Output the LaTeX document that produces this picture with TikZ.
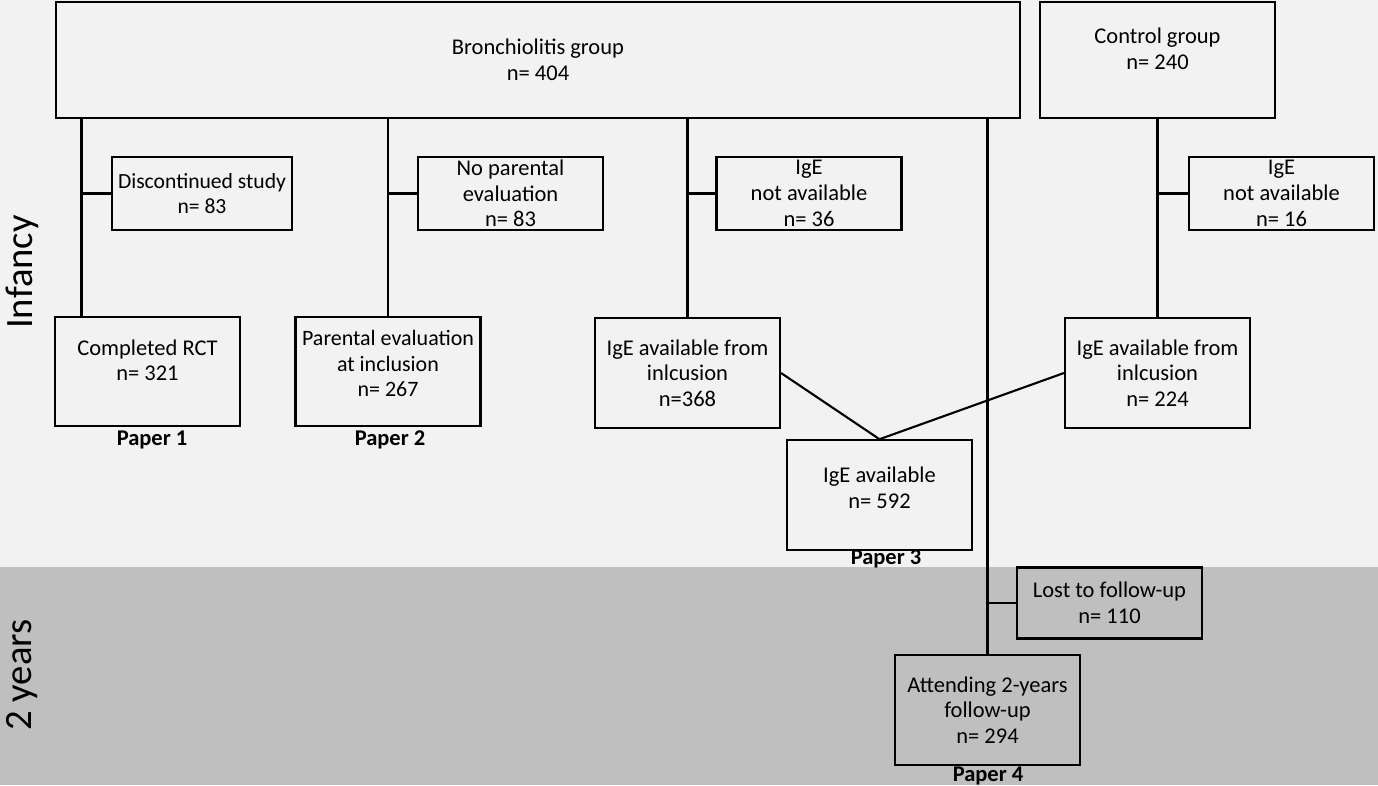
\documentclass[tikz,border=0pt]{standalone}
\usepackage{fontspec}
\setmainfont{Carlito}
\definecolor{infancybg}{HTML}{F2F2F2}
\definecolor{yearsbg}{HTML}{BFBFBF}
\tikzset{
  flowbox/.style={draw, line width=1.2pt, rectangle, align=center, inner sep=0pt,
    font=\fontsize{12.8}{14.6}\selectfont},
  sidebox/.style={flowbox, minimum width=3.7cm, minimum height=1.46cm},
  countbox/.style={flowbox, minimum width=3.7cm, minimum height=2.19cm},
  papertag/.style={font=\bfseries\fontsize{12.8}{14}\selectfont, inner sep=0pt},
  phase/.style={rotate=90, font=\fontsize{22}{26}\selectfont, inner sep=0pt},
}
\begin{document}
\begin{tikzpicture}[x=0.02cm, y=-0.02cm]
      \useasboundingbox (0,0) rectangle (1378,785);
      \fill[infancybg] (0,0) rectangle (1378,567);
      \fill[yearsbg] (0,567) rectangle (1378,785);
      \draw
        (22,272) node[phase] (infancy){Infancy}
        (22,675) node[phase] (twoyears){2 years}
        (538,60) node[flowbox, minimum width=19.3cm, minimum height=2.32cm] (bronch){Bronchiolitis group\\n= 404}
        (1157.5,60) node[flowbox, minimum width=4.7cm, minimum height=2.32cm, text depth=0.45cm] (ctrl){Control group\\n= 240}
        (202,193.5) node[sidebox, minimum width=3.6cm, font=\fontsize{12.3}{14.6}\selectfont] (disc){Discontinued study\\n= 83}
        (510.5,193.5) node[sidebox] (nopar){No parental\\evaluation\\n= 83}
        (809,193.5) node[sidebox] (notbr){IgE\\not available\\n= 36}
        (1281.5,193.5) node[sidebox] (notctrl){IgE\\not available\\n= 16}
        (147.5,371.5) node[countbox, text depth=0.45cm] (rct){Completed RCT\\n= 321}
        (388,371.5) node[countbox, text depth=0.32cm, font=\fontsize{12.5}{14.6}\selectfont] (par){Parental evaluation\\at inclusion\\n= 267}
        (687.5,373) node[countbox] (inc1){IgE available from\\inlcusion\\n=368}
        (1157.5,373) node[countbox] (inc2){IgE available from\\inlcusion\\n= 224}
        (879.5,495) node[countbox, text depth=0.3cm] (avail){IgE available\\n= 592}
        (1109.5,603) node[sidebox, minimum height=1.42cm] (lost){Lost to follow-up\\n= 110}
        (987.5,710) node[countbox] (att){Attending 2-years\\follow-up\\n= 294}
        (152,440) node[papertag] (paper1){Paper 1}
        (390,440) node[papertag] (paper2){Paper 2}
        (886,559) node[papertag] (paper3){Paper 3}
        (988,776) node[papertag] (paper4){Paper 4};
      \path (bronch.south west) ++(27,0) coordinate (split1);
      \begin{scope}[line width=1.2pt]
        \draw (split1) to (split1 |- rct.north);
        \draw (disc.west) to (disc.west -| split1);
        \draw (par.north |- bronch.south) to (par.north);
        \draw (nopar.west) to (nopar.west -| par.north);
        \draw (inc1.north |- bronch.south) to (inc1.north);
        \draw (notbr.west) to (notbr.west -| inc1.north);
        \draw (ctrl.south) to (inc2.north);
        \draw (notctrl.west) to (notctrl.west -| ctrl.south);
        \draw (inc1.east) to (avail.north);
        \draw (inc2.west) to (avail.north);
        \draw (att.north |- bronch.south) to (att.north);
        \draw (lost.west) to (lost.west -| att.north);
      \end{scope}
    \end{tikzpicture}
\end{document}
